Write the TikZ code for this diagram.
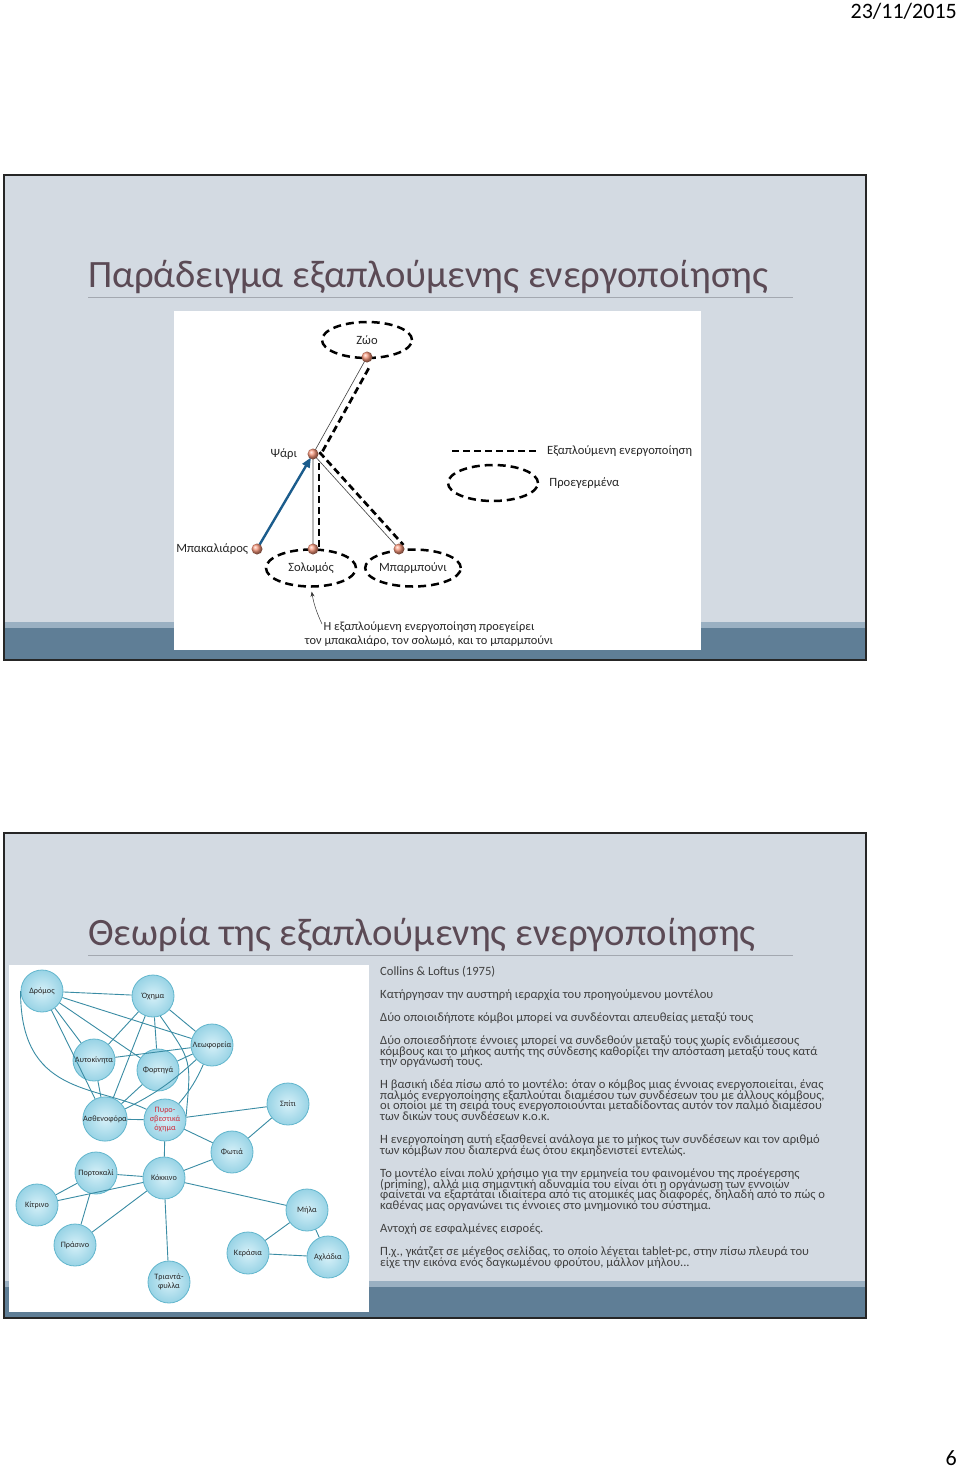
\documentclass[tikz,border=0pt]{standalone}
\usepackage{fontspec}
\setmainfont{Carlito}
\usetikzlibrary{positioning, arrows.meta, calc, shapes.geometric}

\definecolor{slidegray}{HTML}{D3DAE2}
\definecolor{bardark}{HTML}{5F7E96}
\definecolor{barlight}{HTML}{9AB0C2}
\definecolor{titlebrown}{HTML}{5B4A55}
\definecolor{rulegray}{HTML}{A3A8B0}
\definecolor{bodygray}{HTML}{404040}
\definecolor{dotorange}{HTML}{F7967A}
\definecolor{arrowblue}{HTML}{1B5C8C}
\definecolor{conceptin}{HTML}{D6F0F8}
\definecolor{conceptout}{HTML}{98D3E5}
\definecolor{conceptedge}{HTML}{62B6CD}
\definecolor{linkteal}{HTML}{3A8CA4}
\definecolor{firered}{HTML}{D02C3C}

\begin{document}
\begin{tikzpicture}[
    x=1pt, y=-1pt,
    every node/.style={inner sep=0pt},
    slideframe/.style={draw=black!85, line width=1.6pt},
    slidetitle/.style={anchor=base west, text=titlebrown, font=\fontsize{38.7}{42}\selectfont},
    bodyline/.style={anchor=base west, text=bodygray, font=\fontsize{12.6}{13}\selectfont},
    lbl/.style={font=\fontsize{12.6}{14}\selectfont, text=black!85},
    primed/.style={ellipse, draw, line width=2.5pt, dash pattern=on 8pt off 5pt,
                   minimum width=90pt, minimum height=36pt, lbl},
    dot/.style={circle, minimum size=11pt, ball color=dotorange},
    thinlink/.style={draw=black!75, line width=0.6pt},
    spread/.style={line width=2.7pt, dash pattern=on 7pt off 4pt},
    prime/.style={draw=arrowblue, line width=2.4pt, -{Triangle[length=10pt, width=8pt]}},
    notearrow/.style={draw=black!80, line width=0.5pt, -{Stealth[length=5pt, width=4pt]}},
    concept/.style={circle, minimum size=42pt, draw=conceptedge, line width=0.8pt,
                    inner color=conceptin, outer color=conceptout,
                    font=\fontsize{8.2}{9}\selectfont, text=black!85, align=center},
    link/.style={draw=linkteal, line width=0.9pt},
]

% --- page ------------------------------------------------------------
\fill[white] (0,0) rectangle (960,1468);
\useasboundingbox (0,0) rectangle (960,1468);
\node[anchor=base east, font=\fontsize{22}{24}\selectfont] (date) at (957,18) {23/11/2015};
\node[anchor=base east, font=\fontsize{22}{24}\selectfont] (pagenum) at (957,1465) {6};

% --- slide 1 --------------------------------------------------------
\fill[slidegray] (4,175) rectangle (866,660);
\fill[barlight] (4,622) rectangle (866,628);
\fill[bardark] (4,628) rectangle (866,660);
\draw[slideframe] (4,175) rectangle (866,660);
\node[slidetitle] (title1) at (88,287) {Παράδειγμα εξαπλούμενης ενεργοποίησης};
\draw[rulegray, line width=0.8pt] (88,297) -- (793,297);
\fill[white] (174,311) rectangle (701,650);

% primed concepts (dashed ellipses)
\node[primed] (zooC) at (367,340) {Ζώο};
\node[primed, minimum height=37pt] (soloC) at (311,568) {Σολωμός};
\node[primed, minimum height=37pt] (barbC) at (413,568) {Μπαρμπούνι};

% concept points
\coordinate (zoo) at (367,357);
\coordinate (psari) at (313,454);
\coordinate (bakal) at (257,549);
\coordinate (solo) at (313,549);
\coordinate (barb) at (399,549);

\draw[thinlink] (zoo) -- (psari) -- (solo);
\draw[thinlink] (psari) -- (barb);

% spreading activation along the links
\draw[spread, shorten <=9pt, shorten >=3pt]
    ($(zoo)!7pt!90:(psari)$) -- ($(psari)!7pt!-90:(zoo)$);
\draw[spread, shorten <=9pt]
    ($(psari)!6pt!90:(solo)$) -- ($(solo)!6pt!-90:(psari)$);
\draw[spread, shorten <=3pt]
    ($(psari)!6pt!90:(barb)$) -- ($(barb)!6pt!-90:(psari)$);

\draw[prime, shorten <=5pt, shorten >=4pt] (bakal) -- (psari);

\node[dot] (zooD) at (zoo) {};
\node[dot] (psariD) at (psari) {};
\node[dot] (bakalD) at (bakal) {};
\node[dot] (soloD) at (solo) {};
\node[dot] (barbD) at (barb) {};
\node[lbl, left=10pt of psariD] (psariL) {Ψάρι};
\node[lbl, left=3pt of bakalD] (bakalL) {Μπακαλιάρος};

% legend
\coordinate (legA) at (452,451);
\coordinate (legB) at (537,451);
\draw[spread] (legA) -- (legB);
\node[lbl, anchor=west] (legspreadL) at (547,451) {Εξαπλούμενη ενεργοποίηση};
\node[primed] (legC) at (493,483) {};
\node[lbl, right=10pt of legC] (legprimedL) {Προεγερμένα};

% note
\node[lbl, font=\fontsize{12.4}{14}\selectfont, align=center] (note) at (429,634)
    {Η εξαπλούμενη ενεργοποίηση προεγείρει\\τον μπακαλιάρο, τον σολωμό, και το μπαρμπούνι};
\coordinate (notefoot) at (322,624);
\draw[notearrow, shorten >=4pt] (notefoot) to[out=115, in=-80] (soloC.south);

% --- slide 2 --------------------------------------------------------
\fill[slidegray] (4,833) rectangle (866,1318);
\fill[barlight] (4,1281) rectangle (866,1287);
\fill[bardark] (4,1287) rectangle (866,1318);
\draw[slideframe] (4,833) rectangle (866,1318);
\node[slidetitle] (title2) at (88,945) {Θεωρία της εξαπλούμενης ενεργοποίησης};
\draw[rulegray, line width=0.8pt] (88,955) -- (793,955);
\fill[white] (9,965) rectangle (369,1312);

% semantic network
\node[concept] (drom) at (42,991) {Δρόμος};
\node[concept] (ochima) at (153,996) {Όχημα};
\node[concept] (leof) at (212,1045) {Λεωφορεία};
\node[concept] (autok) at (94,1060) {Αυτοκίνητα};
\node[concept] (fort) at (158,1070) {Φορτηγά};
\node[concept] (asthen) at (105,1119) {Ασθενοφόρα};
\node[concept, text=firered] (pyro) at (165,1120) {Πυρο-\\σβεστικά\\όχημα};
\node[concept] (spiti) at (288,1104) {Σπίτι};
\node[concept] (fotia) at (232,1152) {Φωτιά};
\node[concept] (portok) at (96,1173) {Πορτοκαλί};
\node[concept] (kokk) at (164,1178) {Κόκκινο};
\node[concept] (kitr) at (37,1205) {Κίτρινο};
\node[concept] (mila) at (307,1210) {Μήλα};
\node[concept] (prasino) at (75,1245) {Πράσινο};
\node[concept] (keras) at (248,1253) {Κεράσια};
\node[concept] (achl) at (328,1257) {Αχλάδια};
\node[concept] (triant) at (169,1282) {Τριαντά-\\φυλλα};

\draw[link] (drom) -- (ochima);
\draw[link] (drom) -- (leof);
\draw[link] (drom) -- (fort);
\draw[link] (drom) -- (autok);
\draw[link] (drom) -- (asthen);
\draw[link] (drom.west) .. controls (20,1095) and (95,1085) .. (pyro.150);
\draw[link] (ochima) -- (autok);
\draw[link] (ochima) -- (asthen);
\draw[link] (ochima) -- (fort);
\draw[link] (ochima) -- (leof);
\draw[link] (ochima.-70) to[out=-55, in=85, looseness=1.4] (pyro.10);
\draw[link] (autok) -- (leof);
\draw[link] (autok) -- (asthen);
\draw[link] (fort) -- (leof);
\draw[link] (fort) -- (asthen);
\draw[link] (leof) to[bend left=8] (asthen);
\draw[link] (leof) to[bend left=8] (pyro);
\draw[link] (asthen) -- (pyro);
\draw[link] (pyro) -- (spiti);
\draw[link] (pyro) -- (fotia);
\draw[link] (pyro) -- (kokk);
\draw[link] (spiti) -- (fotia);
\draw[link] (fotia) -- (kokk);
\draw[link] (kokk) -- (portok);
\draw[link] (kokk) -- (kitr);
\draw[link] (kokk) -- (prasino);
\draw[link] (kokk) -- (triant);
\draw[link] (kokk) -- (mila);
\draw[link] (portok) -- (kitr);
\draw[link] (portok) -- (prasino);
\draw[link] (mila) -- (keras);
\draw[link] (mila) -- (achl);
\draw[link] (keras) -- (achl);

% text column
\foreach \y/\t [count=\i] in {
    975.5/{Collins \& Loftus (1975)},
    998.5/{Κατήργησαν την αυστηρή ιεραρχία του προηγούμενου μοντέλου},
    1021.5/{Δύο οποιοιδήποτε κόμβοι μπορεί να συνδέονται απευθείας μεταξύ τους},
    1044.5/{Δύο οποιεσδήποτε έννοιες μπορεί να συνδεθούν μεταξύ τους χωρίς ενδιάμεσους},
    1055/{κόμβους και το μήκος αυτής της σύνδεσης καθορίζει την απόσταση μεταξύ τους κατά},
    1065.5/{την οργάνωσή τους.},
    1088.5/{Η βασική ιδέα πίσω από το μοντέλο: όταν ο κόμβος μιας έννοιας ενεργοποιείται, ένας},
    1099/{παλμός ενεργοποίησης εξαπλούται διαμέσου των συνδέσεων του με άλλους κόμβους,},
    1109.5/{οι οποίοι με τη σειρά τους ενεργοποιούνται μεταδίδοντας αυτόν τον παλμό διαμέσου},
    1120/{των δικών τους συνδέσεων κ.ο.κ.},
    1143.5/{Η ενεργοποίηση αυτή εξασθενεί ανάλογα με το μήκος των συνδέσεων και τον αριθμό},
    1154/{των κόμβων που διαπερνά έως ότου εκμηδενιστεί εντελώς.},
    1177.5/{Το μοντέλο είναι πολύ χρήσιμο για την ερμηνεία του φαινομένου της προέγερσης},
    1188/{(priming), αλλά μια σημαντική αδυναμία του είναι ότι η οργάνωση των εννοιών},
    1198.5/{φαίνεται να εξαρτάται ιδιαίτερα από τις ατομικές μας διαφορές, δηλαδή από το πώς ο},
    1209/{καθένας μας οργανώνει τις έννοιες στο μνημονικό του σύστημα.},
    1232.5/{Αντοχή σε εσφαλμένες εισροές.},
    1255.5/{Π.χ., γκάτζετ σε μέγεθος σελίδας, το οποίο λέγεται tablet-pc, στην πίσω πλευρά του},
    1266/{είχε την εικόνα ενός δαγκωμένου φρούτου, μάλλον μήλου...}}
    \node[bodyline] (body\i) at (380,\y) {\t};

\end{tikzpicture}
\end{document}
